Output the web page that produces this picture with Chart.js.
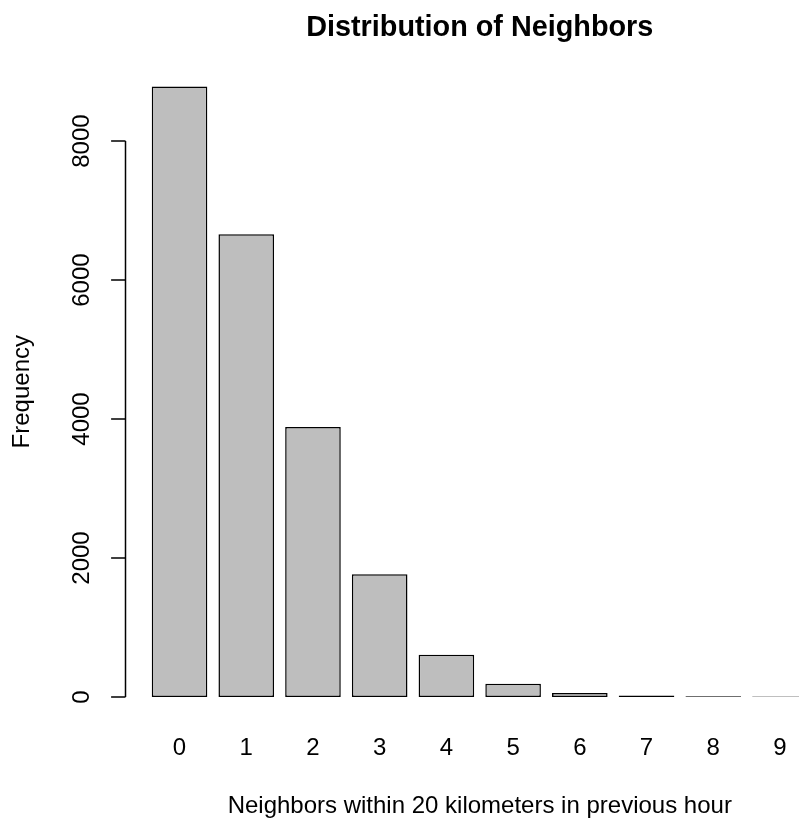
<!DOCTYPE html>
<html>
<head>
<meta charset="utf-8">
<script src="https://cdn.jsdelivr.net/npm/chart.js@4/dist/chart.umd.min.js"></script>
<style>
  html, body { margin: 0; padding: 0; overflow: hidden; background: #fff; }
  canvas { display: block; }
</style>
</head>
<body>
<canvas id="barras" width="834" height="825"></canvas>
<script>
// Dados
const categorias = ["0", "1", "2", "3", "4", "5", "6", "7", "8", "9"];
const frequencias = [8787, 6660, 3885, 1766, 609, 191, 58, 20, 12, 8];
const ticksY = [0, 2000, 4000, 6000, 8000];

const fonte = '"Liberation Sans", Arial, Helvetica, sans-serif';

// Eixo Y no estilo do R: linha so entre os ticks, rotulos girados
const eixoR = {
    id: "eixoR",
    afterDraw(chart) {
        const ctx = chart.ctx;
        const y = chart.scales.y;
        const left = chart.chartArea.left;
        ctx.save();
        ctx.strokeStyle = "#000";
        ctx.lineWidth = 1.5;
        ctx.beginPath();
        ctx.moveTo(left, y.getPixelForValue(ticksY[0]));
        ctx.lineTo(left, y.getPixelForValue(ticksY[ticksY.length - 1]));
        ticksY.forEach(v => {
            const p = y.getPixelForValue(v);
            ctx.moveTo(left, p);
            ctx.lineTo(left - 14.4, p);
        });
        ctx.stroke();
        ctx.fillStyle = "#000";
        ctx.font = "24px " + fonte;
        ctx.textAlign = "center";
        ctx.textBaseline = "alphabetic";
        ticksY.forEach(v => {
            ctx.save();
            ctx.translate(left - 36.5, y.getPixelForValue(v));
            ctx.rotate(-Math.PI / 2);
            ctx.fillText(String(v), 0, 0);
            ctx.restore();
        });
        ctx.restore();
    }
};

const maxFreq = Math.max(...frequencias);

new Chart(document.getElementById("barras").getContext("2d"), {
    type: "bar",
    data: {
        datasets: [{
            label: "Frequency",
            data: frequencias.map((f, i) => ({ x: i, y: f })),
            backgroundColor: "#BEBEBE",
            borderColor: "#000",
            borderWidth: 1.5,
            borderSkipped: false,
            categoryPercentage: 1,
            barPercentage: 1 / 1.2
        }]
    },
    options: {
        responsive: false,
        animation: false,
        devicePixelRatio: 1,
        layout: { padding: 0 },
        plugins: {
            legend: { display: false },
            tooltip: { enabled: false },
            title: {
                display: true,
                text: "Distribution of Neighbors",
                color: "#000",
                fullSize: false,
                font: { family: fonte, size: 28.8, weight: "bold" },
                padding: { top: 11, bottom: 16.4 }
            }
        },
        scales: {
            x: {
                type: "linear",
                offset: false,
                min: -0.81,
                max: 9.81,
                grid: { display: false, drawTicks: false, offset: false },
                border: { display: false },
                ticks: {
                    color: "#000",
                    font: { family: fonte, size: 24 },
                    padding: 13,
                    callback: v => categorias[v]
                },
                afterBuildTicks: s => { s.ticks = categorias.map((c, i) => ({ value: i })); },
                afterFit: s => { s.height = 103.6; },
                title: {
                    display: true,
                    text: "Neighbors within 20 kilometers in previous hour",
                    color: "#000",
                    font: { family: fonte, size: 24 },
                    padding: { top: 0, bottom: 4 }
                }
            },
            y: {
                min: -0.04 * maxFreq,
                max: 1.04 * maxFreq,
                grid: { display: false, drawTicks: false },
                border: { display: false },
                ticks: { display: false },
                afterFit: s => { s.width = 125.5; },
                title: {
                    display: true,
                    text: "Frequency",
                    color: "#000",
                    font: { family: fonte, size: 24 },
                    padding: { top: 7.6, bottom: 0 }
                }
            }
        }
    },
    plugins: [eixoR]
});
</script>
</body>
</html>
